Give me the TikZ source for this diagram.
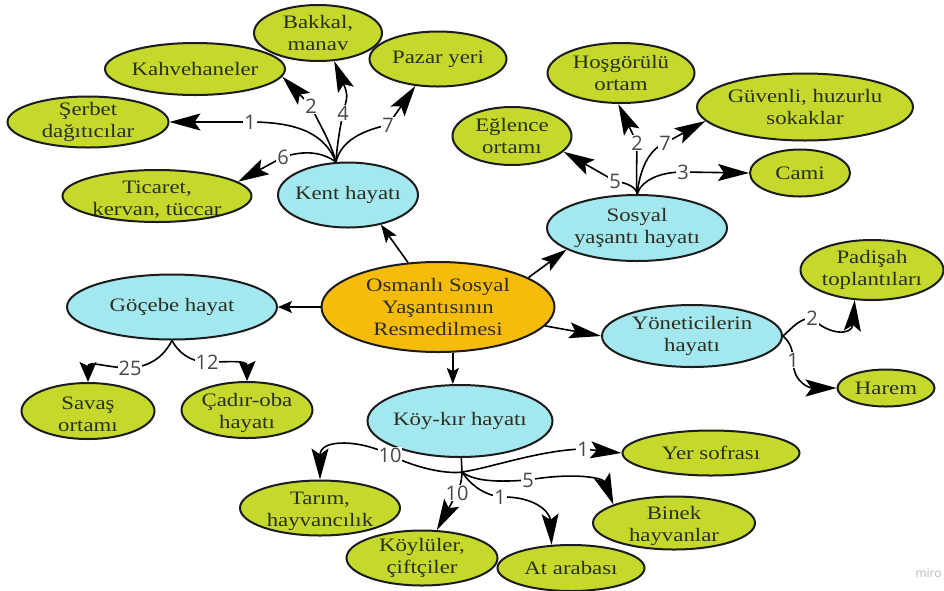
\documentclass[tikz,border=0pt]{standalone}
\usepackage{fontspec}
\setmainfont{Liberation Serif}[FakeStretch=1.2]
\newfontfamily\lblfont{Open Sans}
\usetikzlibrary{shapes.geometric,arrows.meta}
\definecolor{grnfill}{HTML}{C4D92B}
\definecolor{cynfill}{HTML}{A3E8EE}
\definecolor{orgfill}{HTML}{F6BC0C}
\definecolor{edgecol}{HTML}{1C1C1C}
\definecolor{txtcol}{HTML}{2E2E20}
\definecolor{lblcol}{HTML}{474747}
\tikzset{
  ell/.style={ellipse, draw=edgecol, line width=2pt, inner sep=0pt},
  grn/.style={ell, fill=grnfill},
  cyn/.style={ell, fill=cynfill},
  org/.style={ell, fill=orgfill},
  txt/.style={align=center, text=txtcol, font=\fontsize{19}{22}\selectfont, inner sep=0pt},
  con/.style={draw=black, line width=1.6pt},
  arr/.style={con, -{Stealth[length=31pt,width=17pt,inset=6pt]}},
  arrd/.style={con, -{Stealth[length=20pt,width=17pt,inset=4pt]}},
  lbl/.style={fill=white, inner sep=1pt, text=lblcol, font=\lblfont\fontsize{20}{22}\selectfont},
}
\begin{document}
\begin{tikzpicture}[x=1pt,y=-1pt]
\fill[white] (0,0) rectangle (944,590);
\useasboundingbox (0,0) rectangle (944,590);

% nodes
\node[grn, minimum width=128pt, minimum height=56pt, label={[txt]center:{Bakkal,\\manav}}] (bakkal) at (318,33) {};
\node[grn, minimum width=180pt, minimum height=52pt, label={[txt]center:{Kahvehaneler}}] (kahve) at (195,69) {};
\node[grn, minimum width=137pt, minimum height=55pt, label={[txt]center:{Pazar yeri}}] (pazar) at (438,59) {};
\node[grn, minimum width=161pt, minimum height=51pt, label={[txt]center:{Şerbet\\dağıtıcılar}}] (serbet) at (88,122) {};
\node[grn, minimum width=189pt, minimum height=52pt, label={[txt,yshift=-4pt]center:{Ticaret,\\kervan, tüccar}}] (ticaret) at (157,196) {};
\node[cyn, minimum width=140pt, minimum height=65pt, label={[txt]center:{Kent hayatı}}] (kent) at (348,195) {};
\node[grn, minimum width=147pt, minimum height=60pt, label={[txt]center:{Hoşgörülü\\ortam}}] (hosgoru) at (621,73) {};
\node[grn, minimum width=119pt, minimum height=58pt, label={[txt]center:{Eğlence\\ortamı}}] (eglence) at (512,136) {};
\node[grn, minimum width=216pt, minimum height=67pt, label={[txt]center:{Güvenli, huzurlu\\sokaklar}}] (guvenli) at (805,107) {};
\node[grn, minimum width=100pt, minimum height=47pt, label={[txt]center:{Cami}}] (cami) at (800,173) {};
\node[cyn, minimum width=180pt, minimum height=66pt, label={[txt]center:{Sosyal\\yaşantı hayatı}}] (sosyal) at (637,228) {};
\node[org, minimum width=233pt, minimum height=90pt, label={[txt]center:{Osmanlı Sosyal\\Yaşantısının\\Resmedilmesi}}] (osmanli) at (438,307) {};
\node[cyn, minimum width=210pt, minimum height=65pt, label={[txt]center:{Göçebe hayat}}] (gocebe) at (172,307) {};
\node[cyn, minimum width=180pt, minimum height=62pt, label={[txt]center:{Yöneticilerin\\hayatı}}] (yonet) at (692,336) {};
\node[grn, minimum width=143pt, minimum height=60pt, label={[txt]center:{Padişah\\toplantıları}}] (padisah) at (872,270) {};
\node[grn, minimum width=97pt, minimum height=37pt, label={[txt]center:{Harem}}] (harem) at (886,388) {};
\node[grn, minimum width=133pt, minimum height=56pt, label={[txt,yshift=-3pt]center:{Savaş\\ortamı}}] (savas) at (88,411) {};
\node[grn, minimum width=131pt, minimum height=56pt, label={[txt,yshift=-3pt]center:{Çadır-oba\\hayatı}}] (cadir) at (247,410) {};
\node[cyn, minimum width=185pt, minimum height=72pt, label={[txt]center:{Köy-kır hayatı}}] (koy) at (460,421) {};
\node[grn, minimum width=160pt, minimum height=55pt, label={[txt,yshift=-3pt]center:{Tarım,\\hayvancılık}}] (tarim) at (320,508) {};
\node[grn, minimum width=151pt, minimum height=55pt, label={[txt]center:{Köylüler,\\çiftçiler}}] (koylu) at (422,558) {};
\node[grn, minimum width=147pt, minimum height=46pt, label={[txt]center:{At arabası}}] (atar) at (571,568) {};
\node[grn, minimum width=177pt, minimum height=45pt, label={[txt]center:{Yer sofrası}}] (yer) at (711,453) {};
\node[grn, minimum width=162pt, minimum height=53pt, label={[txt,yshift=-3pt]center:{Binek\\hayvanlar}}] (binek) at (674,523) {};

% main arrows
\draw[con, -{Stealth[length=18pt,width=13pt,inset=4pt]}] (osmanli.124) -- (kent.-42);
\draw[con, -{Stealth[length=26pt,width=15pt,inset=5pt]}] (osmanli.18) -- (sosyal.197);
\draw[con, -{Stealth[length=14pt,width=12pt,inset=3pt]}] (osmanli.west) -- (gocebe.east);
\draw[con, -{Stealth[length=32pt,width=16pt,inset=6pt]}] (osmanli.-10) -- (yonet.west);
\draw[con, -{Stealth[length=16pt,width=12pt,inset=3pt]}] (osmanli.-72) -- (osmanli.-72 |- koy.north);

% branch points
\coordinate (kb) at (kent.110);
\coordinate (sb) at (sosyal.north);
\coordinate (gb) at (gocebe.south);
\coordinate (yb) at (yonet.east);
\coordinate (kkb) at (462,472);

% Kent hayati
\draw[arr] (kb) .. controls (325,135) and (300,122) .. (250,122) node[lbl]{1} -- (serbet.east);
\draw[arr] (kb) .. controls (322,152) and (305,150) .. (283,157) node[lbl]{6} -- (ticaret.10);
\draw[arr] (kb) .. controls (330,140) and (318,122) .. (311,106) node[lbl]{2} -- (kahve.-5);
\draw[arr] (kb) .. controls (337,145) and (340,128) .. (343,113) node[lbl]{4} .. controls (348,95) .. (bakkal.-60);
\draw[arr] (kb) .. controls (340,145) and (355,132) .. (388,125) node[lbl]{7} -- (pazar.-130);

% Sosyal yasanti
\draw[arr] (sb) .. controls (637,188) and (628,183) .. (615,181) node[lbl]{5} -- (eglence.-17);
\draw[arr] (sb) .. controls (636,175) and (637,160) .. (637,143) node[lbl]{2} -- (hosgoru.-95);
\draw[arr] (sb) .. controls (640,170) and (648,150) .. (665,143) node[lbl]{7} -- (guvenli.188);
\draw[arr] (sb) .. controls (642,180) and (660,172) .. (683,172) node[lbl]{3} -- (cami.west);

% Gocebe
\draw[arrd] (gb) .. controls (166,352) and (155,366) .. (130,368) node[lbl]{25} .. controls (108,368) and (88,360) .. (savas.north);
\draw[arrd] (gb) .. controls (178,352) and (190,362) .. (207,362) node[lbl]{12} .. controls (230,362) and (247,360) .. (cadir.north);

% Yoneticiler
\draw[arr] (yb) .. controls (792,328) and (800,318) .. (812,318) node[lbl]{2} .. controls (828,335) and (852,336) .. (padisah.-120);
\draw[arr] (yb) .. controls (790,342) and (793,350) .. (793,360) node[lbl]{1} .. controls (793,385) and (812,388) .. (harem.west);

% Koy-kir
\draw[con] (koy.-88) -- (kkb);
\draw[arr] (kkb) .. controls (450,474) and (420,470) .. (390,455) node[lbl]{10} .. controls (362,440) and (320,438) .. (tarim.north);
\draw[arr] (kkb) .. controls (462,482) and (459,488) .. (457,493) node[lbl]{10} -- (koylu.62);
\draw[arr] (kkb) .. controls (470,484) and (482,494) .. (500,497) node[lbl]{1} .. controls (535,496) and (550,512) .. (atar.130);
\draw[arr] (kkb) .. controls (475,482) and (500,482) .. (528,480) node[lbl]{5} .. controls (575,472) and (603,478) .. (binek.163);
\draw[arr] (kkb) .. controls (490,468) and (540,450) .. (583,449) node[lbl]{1} -- (yer.west);

% watermark
\node[anchor=west, text=gray!55, font=\lblfont\fontsize{12}{14}\selectfont] (miro) at (912,573) {miro};
\end{tikzpicture}
\end{document}
